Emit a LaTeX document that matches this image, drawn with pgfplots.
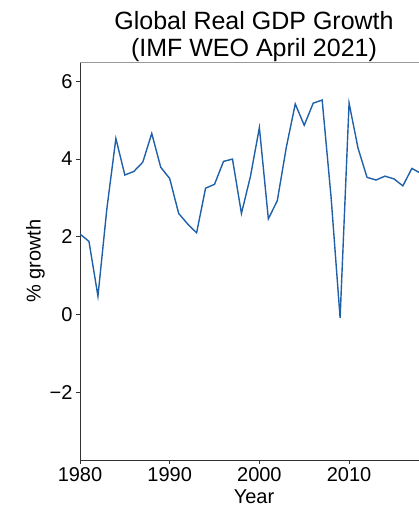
\documentclass[border=0pt]{standalone}
\usepackage{pgfplots}
\pgfplotsset{compat=1.18}
\usepackage{fontspec}
\setmainfont{Liberation Sans}
\definecolor{linec}{RGB}{31,96,168}
\definecolor{spine}{RGB}{50,50,50}
\begin{document}
\begin{tikzpicture}
\begin{axis}[
  scale only axis, width=348pt, height=398pt,
  xmin=1980, xmax=2018.8, ymin=-3.75, ymax=6.5,
  xtick={1980,1990,2000,2010}, xticklabels={1980,1990,2000,2010},
  ytick={-2,0,2,4,6}, yticklabels={−2,0,2,4,6},
  tick label style={font=\fontsize{20}{24}\selectfont, text=black},
  tick align=outside, major tick length=4pt,
  axis x line*=bottom, axis y line*=left,
  axis line style={spine, line width=0.9pt, -},
  every tick/.style={spine, line width=0.8pt},
  xlabel={Year}, ylabel={\% growth},
  label style={font=\fontsize{20}{24}\selectfont},
  xlabel style={yshift=-1pt},
  ylabel style={yshift=-2pt},
  clip=true,
]
\addplot[linec, line width=1.4pt] coordinates {
(1980,2.07) (1981,1.88) (1982,0.47) (1983,2.73) (1984,4.53) (1985,3.59)
(1986,3.68) (1987,3.92) (1988,4.66) (1989,3.79) (1990,3.50) (1991,2.60)
(1992,2.33) (1993,2.10) (1994,3.25) (1995,3.35) (1996,3.94) (1997,4.00)
(1998,2.60) (1999,3.55) (2000,4.81) (2001,2.46) (2002,2.93) (2003,4.30)
(2004,5.42) (2005,4.87) (2006,5.44) (2007,5.52) (2008,3.00) (2009,-0.09)
(2010,5.44) (2011,4.28) (2012,3.53) (2013,3.46) (2014,3.56) (2015,3.49)
(2016,3.31) (2017,3.76) (2018,3.63) (2019,2.80)
};
\end{axis}
\draw[gray!80, line width=0.9pt] (current axis.north west) -- (current axis.north east);
\node[anchor=south, align=center, font=\fontsize{25}{27}\selectfont, inner sep=0pt, yshift=0pt]
  at (current axis.north) {Global Real GDP Growth\\(IMF WEO April 2021)};
\pgfresetboundingbox
\path ([shift={(-80pt,-49pt)}]current axis.south west) rectangle ([shift={(-10pt,62pt)}]current axis.north east);
\end{tikzpicture}
\end{document}
